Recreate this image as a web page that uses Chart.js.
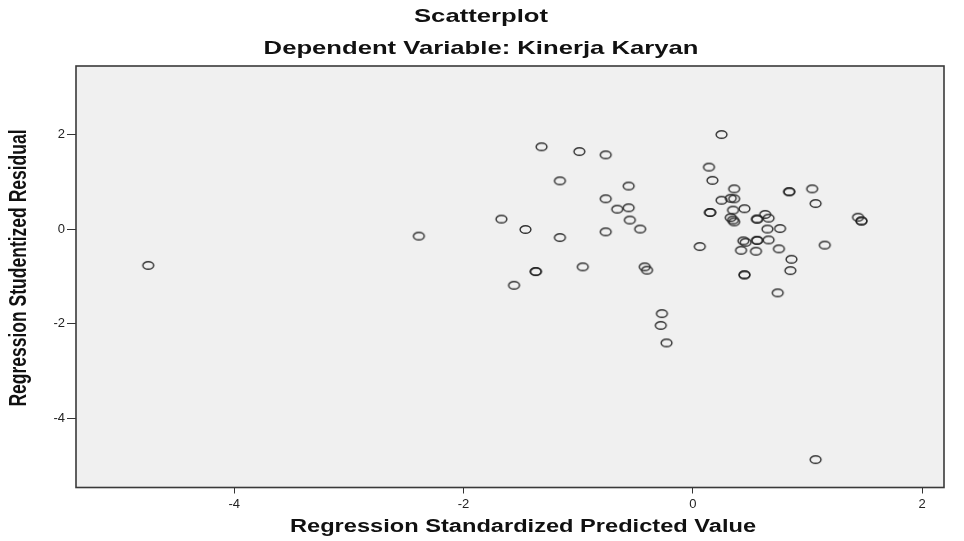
<!DOCTYPE html>
<html>
<head>
<meta charset="utf-8">
<script src="https://cdn.jsdelivr.net/npm/chart.js@4/dist/chart.umd.min.js"></script>
<style>
  html, body { margin: 0; padding: 0; background: #ffffff; }
  #wrap { width: 964px; height: 541px; }
</style>
</head>
<body>
<div id="wrap"><canvas id="c" width="964" height="541"></canvas></div>
<script>
// ---- data ----
const chartTitle = "Scatterplot";
const chartSubtitle = "Dependent Variable: Kinerja Karyan";
const xAxisTitle = "Regression Standardized Predicted Value";
const yAxisTitle = "Regression Studentized Residual";

const predicted = [
  -4.75, -2.39, -1.67, -1.56, -1.46, -1.37, -1.37, -1.32, -1.16, -1.16,
  -0.99, -0.96, -0.76, -0.76, -0.76, -0.66, -0.56, -0.56, -0.55, -0.46,
  -0.42, -0.40, -0.27, -0.28, -0.23, 0.06, 0.14, 0.17, 0.25, 0.25,
  0.33, 0.36, 0.36, 0.15, 0.15, 0.35, 0.45, 0.33, 0.35, 0.36,
  0.56, 0.56, 0.63, 0.66, 0.65, 0.76, 0.84, 0.84, 1.04, 1.07,
  1.44, 1.47, 1.47, 0.44, 0.46, 0.56, 0.56, 0.66, 0.42, 0.55,
  0.75, 1.15, 0.86, 0.85, 0.45, 0.45, 0.74, 1.07
];
const residual = [
  -0.77, -0.15, 0.21, -1.19, -0.01, -0.90, -0.90, 1.74, 1.02, -0.18,
  1.64, -0.80, 1.57, 0.64, -0.06, 0.42, 0.91, 0.45, 0.19, 0.00,
  -0.80, -0.87, -1.79, -2.04, -2.41, -0.37, 1.31, 1.03, 2.00, 0.61,
  0.65, 0.64, 0.85, 0.35, 0.35, 0.40, 0.43, 0.24, 0.19, 0.15,
  0.21, 0.21, 0.31, 0.23, 0.00, 0.01, 0.79, 0.79, 0.85, 0.54,
  0.25, 0.17, 0.17, -0.25, -0.28, -0.24, -0.24, -0.23, -0.45, -0.47,
  -0.42, -0.34, -0.64, -0.88, -0.97, -0.97, -1.35, -4.88
];
const xTickValues = [-4, -2, 0, 2];
const yTickValues = [-4, -2, 0, 2];

// ---- styling helpers ----
const STRETCH = 1.35;
const FONT = '"Liberation Sans", Arial, sans-serif';

function makeMarker() {
  const c = document.createElement('canvas');
  c.width = 15; c.height = 11;
  const g = c.getContext('2d');
  g.strokeStyle = 'rgba(35,35,35,0.92)';
  g.lineWidth = 1.45;
  g.beginPath();
  g.ellipse(7.5, 5.5, 5.4, 3.8, 0, 0, Math.PI * 2);
  g.stroke();
  return c;
}

function drawStretched(ctx, text, cx, cy, font, rotate) {
  ctx.save();
  ctx.translate(cx, cy);
  ctx.scale(STRETCH, 1);
  if (rotate) ctx.rotate(-Math.PI / 2);
  ctx.font = font;
  ctx.fillStyle = '#111';
  ctx.textAlign = 'center';
  ctx.textBaseline = 'middle';
  ctx.fillText(text, 0, 0);
  ctx.restore();
}

const framePlugin = {
  id: 'frame',
  beforeDatasetsDraw(chart) {
    const a = chart.chartArea, ctx = chart.ctx;
    ctx.save();
    ctx.fillStyle = '#f0f0f0';
    ctx.fillRect(a.left, a.top, a.right - a.left, a.bottom - a.top);
    ctx.restore();
  },
  afterDatasetsDraw(chart) {
    const a = chart.chartArea, ctx = chart.ctx;
    ctx.save();
    ctx.strokeStyle = '#3a3a3a';
    ctx.lineWidth = 1.6;
    ctx.strokeRect(a.left, a.top, a.right - a.left, a.bottom - a.top);
    ctx.restore();
  },
  afterDraw(chart) {
    const ctx = chart.ctx;
    drawStretched(ctx, chartTitle, 481, 17, 'bold 19px ' + FONT, false);
    drawStretched(ctx, chartSubtitle, 481, 49, 'bold 19px ' + FONT, false);
    drawStretched(ctx, xAxisTitle, 523, 527, 'bold 17.5px ' + FONT, false);
    drawStretched(ctx, yAxisTitle, 19, 268, 'bold 17.5px ' + FONT, true);
  }
};

const points = predicted.map((x, i) => ({ x: x, y: residual[i] }));

new Chart(document.getElementById('c'), {
  type: 'scatter',
  data: {
    datasets: [{
      data: points,
      pointStyle: makeMarker(),
      pointRadius: 6,
      pointHoverRadius: 6
    }]
  },
  options: {
    responsive: false,
    animation: false,
    devicePixelRatio: 1,
    layout: { padding: { top: 66, right: 20, bottom: 0, left: 0 } },
    plugins: { legend: { display: false }, tooltip: { enabled: false }, title: { display: false } },
    events: [],
    scales: {
      x: {
        type: 'linear',
        min: -5.38, max: 2.19,
        afterFit(s) { s.height = 53.5; },
        afterBuildTicks(s) { s.ticks = xTickValues.map(v => ({ value: v })); },
        grid: { drawOnChartArea: false, drawTicks: true, tickLength: 6, color: '#333', lineWidth: 1 },
        border: { display: false },
        ticks: { color: '#222', font: { family: FONT, size: 13 }, padding: 3, maxRotation: 0 }
      },
      y: {
        type: 'linear',
        min: -5.47, max: 3.45,
        afterFit(s) { s.width = 76; },
        afterBuildTicks(s) { s.ticks = yTickValues.map(v => ({ value: v })); },
        grid: { drawOnChartArea: false, drawTicks: true, tickLength: 9, color: '#333', lineWidth: 1 },
        border: { display: false },
        ticks: { color: '#222', font: { family: FONT, size: 13 }, padding: 2 }
      }
    }
  },
  plugins: [framePlugin]
});
</script>
</body>
</html>
